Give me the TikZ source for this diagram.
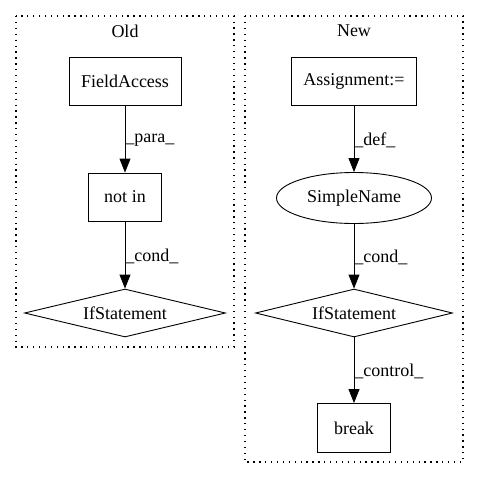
\documentclass[tikz,border=0pt]{standalone}
\usepackage{fontspec}
\setmainfont{Liberation Serif}
\usetikzlibrary{shapes.geometric,arrows.meta}
\begin{document}
\begin{tikzpicture}[x=1pt,y=-1pt,
  every node/.style={font=\fontsize{18}{20}\selectfont, inner sep=0pt},
  boxnode/.style={draw, line width=0.9pt, rectangle, minimum height=48pt},
  ellnode/.style={draw, line width=0.9pt, ellipse, minimum width=155pt, minimum height=51pt},
  dianode/.style={draw, line width=0.9pt, diamond, minimum height=48pt, inner sep=0pt},
  cluster/.style={draw, line width=1.1pt, dash pattern=on 1.3pt off 4.6pt},
  edge/.style={line width=0.9pt, -{Triangle[length=14pt,width=11pt]}},
  elabel/.style={anchor=west, inner sep=0pt}]
\useasboundingbox (0,0) rectangle (480,480);
% clusters
\draw[cluster] (16,16) rectangle (234,347);
\node (oldt) at (125,31) {Old};
\draw[cluster] (245,16) rectangle (463,462);
\node (newt) at (354,31) {New};
% Old
\node[boxnode, minimum width=112pt] (fa) at (125,81) {FieldAccess};
\node[boxnode, minimum width=73pt] (notin) at (125,197) {not in};
\node[dianode, minimum width=201pt, aspect=4.2] (if1) at (125,313) {};
\node (if1t) at (125,313) {IfStatement};
% New
\node[boxnode, minimum width=125pt] (asg) at (354,81) {Assignment:=};
\node[ellnode] (sn) at (354,198) {SimpleName};
\node[dianode, minimum width=197pt, aspect=4.1] (if2) at (354,313) {};
\node (if2t) at (354,313) {IfStatement};
\node[boxnode, minimum width=73pt, minimum height=49pt] (brk) at (354,428) {break};
% edges
\draw[edge] (fa) -- (notin) node[pos=0.52, elabel] (l1) {\_para\_};
\draw[edge] (notin) -- (if1.north) node[pos=0.52, elabel] (l2) {\_cond\_};
\draw[edge] (asg) -- (sn) node[pos=0.52, elabel] (l3) {\_def\_};
\draw[edge] (sn) -- (if2.north) node[pos=0.52, elabel] (l4) {\_cond\_};
\draw[edge] (if2.south) -- (brk) node[pos=0.52, elabel] (l5) {\_control\_};
\end{tikzpicture}
\end{document}
